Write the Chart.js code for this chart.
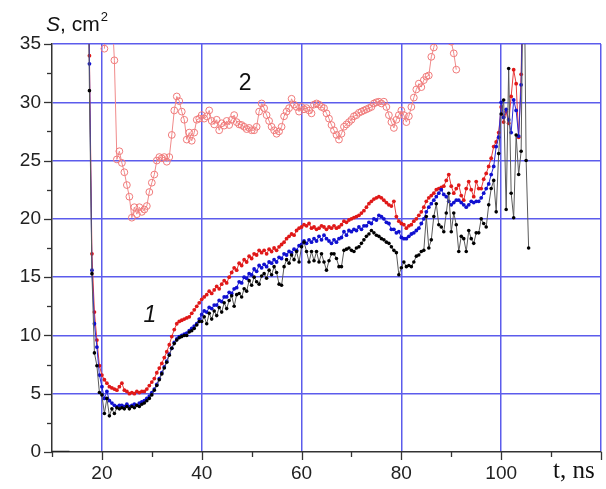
<!DOCTYPE html>
<html>
<head>
<meta charset="utf-8">
<script src="https://cdn.jsdelivr.net/npm/chart.js@4/dist/chart.umd.min.js"></script>
<style>
html,body{margin:0;padding:0;background:#fff;}
#wrap{width:606px;height:489px;position:relative;}
</style>
</head>
<body>
<div id="wrap"><canvas id="c" width="606" height="489"></canvas></div>
<script>
// ---- time axis of curves "1" (ns) ----
const t1 = [
17.0,17.5,18.0,18.5,19.0,19.5,20.0,20.5,21.0,21.5,22.0,22.5,23.0,23.5,24.0,24.5,25.0,25.5,26.0,26.5,
27.0,27.5,28.0,28.5,29.0,29.5,30.0,30.5,31.0,31.5,32.0,32.5,33.0,33.5,34.0,34.5,35.0,35.5,36.0,36.5,
37.0,37.5,38.0,38.5,39.0,39.5,40.0,40.5,41.0,41.5,42.0,42.5,43.0,43.5,44.0,44.5,45.0,45.5,46.0,46.5,
47.0,47.5,48.0,48.5,49.0,49.5,50.0,50.5,51.0,51.5,52.0,52.5,53.0,53.5,54.0,54.5,55.0,55.5,56.0,56.5,
57.0,57.5,58.0,58.5,59.0,59.5,60.0,60.5,61.0,61.5,62.0,62.5,63.0,63.5,64.0,64.5,65.0,65.5,66.0,66.5,
67.0,67.5,68.0,68.5,69.0,69.5,70.0,70.5,71.0,71.5,72.0,72.5,73.0,73.5,74.0,74.5,75.0,75.5,76.0,76.5,
77.0,77.5,78.0,78.5,79.0,79.5,80.0,80.5,81.0,81.5,82.0,82.5,83.0,83.5,84.0,84.5,85.0,85.5,86.0,86.5,
87.0,87.5,88.0,88.5,89.0,89.5,90.0,90.5,91.0,91.5,92.0,92.5,93.0,93.5,94.0,94.5,95.0,95.5,96.0,96.5,
97.0,97.5,98.0,98.5,99.0,99.5,100.0,100.5,101.0,101.5,102.0,102.5,103.0,103.5,104.0,104.5,105.0,105.5
];
// ---- curve 1, red (upper) ----
const sRed = [
50,34.0,17.0,12.0,9.6,7.4,6.6,6.2,5.9,5.6,5.5,5.4,5.3,5.6,5.9,5.3,5.2,5.0,5.1,5.0,
5.2,5.1,5.2,5.2,5.4,5.7,6.0,6.3,6.8,7.2,7.6,8.1,8.6,9.2,9.9,10.5,11.0,11.2,11.3,11.4,
11.5,11.6,11.9,12.2,12.5,12.8,
13.1,13.3,13.5,13.8,13.6,13.9,14.2,14.0,14.4,14.7,
14.5,15.0,15.4,15.8,15.6,16.2,16.0,16.5,16.3,16.8,
16.6,17.0,16.9,17.3,17.1,17.3,17.0,17.4,17.2,17.5,
17.3,17.6,17.8,18.0,18.3,18.5,18.7,18.6,19.0,19.2,
19.3,19.5,19.4,19.6,19.2,19.3,19.1,19.2,19.4,19.3,
19.1,19.3,19.2,19.4,19.2,19.3,19.5,19.8,19.7,19.9,
20.0,20.1,20.2,20.3,20.5,20.7,21.0,21.3,21.5,21.7,
21.8,21.9,21.8,21.6,21.4,21.2,21.1,21.5,20.2,19.8,
19.6,19.5,
19.2,19.4,19.5,19.8,20.0,20.3,20.6,21.0,
21.5,21.8,22.0,22.2,22.5,22.6,22.7,22.8,23.3,23.8,
22.8,22.2,22.6,22.9,22.0,21.6,22.6,23.2,22.5,21.9,
23.2,22.6,22.6,23.4,23.9,24.5,25.2,26.2,26.6,27.4,
29.6,28.3,29.2,28.2,30.5,32.8,31.6,27.0,32.4,45,
44,null
];
// ---- curve 1, blue (middle) ----
const sBlue = [
50,33.3,15.6,11.0,9.0,6.6,5.6,4.6,5.2,4.4,4.2,4.0,3.9,4.0,4.0,3.9,4.1,3.9,4.0,4.1,
4.0,4.2,4.3,4.4,4.6,4.8,5.1,5.4,5.8,6.3,6.8,7.3,7.8,8.4,8.9,9.4,9.7,9.9,10.0,10.1,
10.2,10.4,10.6,10.8,11.0,11.4,
11.8,12.1,12.0,12.4,12.3,12.6,12.6,13.0,12.9,13.3,
13.3,13.7,13.6,14.0,14.1,14.6,14.5,15.0,14.9,15.3,
15.2,15.7,15.5,16.0,15.8,16.1,15.9,16.3,16.2,16.5,
16.3,16.7,16.6,17.0,16.9,17.2,17.1,17.4,17.3,17.7,
17.8,18.1,17.9,18.2,18.0,18.3,18.1,18.5,18.2,18.6,
18.3,18.1,17.9,18.2,18.0,18.3,18.4,18.9,18.6,19.0,
18.9,19.1,19.0,19.3,19.1,19.4,19.4,19.7,19.6,20.0,
19.9,20.3,20.2,20.0,19.7,19.6,19.1,19.1,18.8,18.9,
18.4,18.3,
18.3,18.5,18.7,18.8,19.0,19.2,19.6,20.0,
20.6,21.0,21.3,21.6,21.9,22.2,22.5,22.1,21.9,21.5,
21.2,21.4,21.6,21.6,21.4,21.2,21.0,21.2,21.5,21.4,
21.5,21.5,21.8,22.2,22.6,23.0,23.8,24.5,26.2,27.0,
30.0,28.7,29.4,28.5,27.4,30.2,29.3,27.1,31.5,44,
45,null
];
// ---- curve 1, black (lower) ----
const sBlack = [
50,31.0,15.3,8.5,7.4,5.1,4.9,3.3,4.6,3.1,3.7,3.3,3.8,3.7,3.8,3.7,3.9,3.7,3.9,3.8,
4.0,3.9,4.1,4.2,4.4,4.6,4.9,5.3,5.7,6.2,6.7,7.2,7.7,8.3,8.9,9.3,9.6,9.8,9.9,10.0,
10.0,10.3,10.4,10.6,10.9,11.2,
11.2,11.6,11.0,11.9,11.4,12.1,11.7,12.4,12.0,12.8,
12.3,13.0,13.4,12.5,13.5,13.6,13.3,14.0,13.8,14.7,
14.3,15.0,14.6,14.4,15.1,15.3,14.9,15.6,15.2,15.9,
15.4,14.4,14.3,15.9,16.5,16.2,16.9,16.5,17.2,16.3,
17.6,18.0,17.2,16.3,17.2,16.4,17.2,16.3,17.0,16.3,
15.6,16.4,17.0,17.0,16.6,15.9,15.9,17.3,17.4,17.5,
17.3,17.2,17.5,17.6,17.9,18.2,18.5,18.7,19.0,18.8,
18.6,18.5,18.3,18.2,18.0,17.9,17.6,17.3,17.1,15.2,
15.8,16.3,
15.9,16.0,15.9,16.3,16.8,16.9,17.2,17.3,
20.2,17.5,18.2,20.2,21.3,19.5,19.3,18.9,20.5,22.2,
18.9,20.5,19.5,17.2,18.5,18.3,17.2,19.0,18.3,17.9,
18.8,18.8,20.0,19.6,19.3,21.2,22.6,23.3,20.6,25.6,
29.0,30.2,20.8,32.9,22.2,20.1,27.2,23.8,25.8,46,
25.0,17.5
];
// ---- black baseline segment before the pulse ----
const tBase = [10, 13.5];
const sBase = [0, 0];
// ---- curve 2 (open circles) ----
const t2 = [
20.5,21.0,21.5,22.0,22.5,23.0,23.5,24.0,24.5,25.0,
25.5,26.0,26.5,27.0,27.5,28.0,28.5,29.0,29.5,30.0,
30.5,31.0,31.5,32.0,32.5,33.0,33.5,34.0,34.5,35.0,
35.5,36.0,36.5,37.0,37.5,38.0,38.5,39.0,39.5,40.0,
40.5,41.0,41.5,42.0,42.5,43.0,43.5,44.0,44.5,45.0,
45.5,46.0,46.5,47.0,47.5,48.0,48.5,49.0,49.5,50.0,
50.5,51.0,51.5,52.0,52.5,53.0,53.5,54.0,54.5,55.0,
55.5,56.0,56.5,57.0,57.5,58.0,58.5,59.0,59.5,60.0,
60.5,61.0,61.5,62.0,62.5,63.0,63.5,64.0,64.5,65.0,
65.5,66.0,66.5,67.0,67.5,68.0,68.5,69.0,69.5,70.0,
70.5,71.0,71.5,72.0,72.5,73.0,73.5,74.0,74.5,75.0,
75.5,76.0,76.5,77.0,77.5,78.0,78.5,79.0,79.5,80.0,
80.5,81.0,81.5,82.0,82.5,83.0,83.5,84.0,84.5,85.0,
85.5,86.0,86.5,87.0,87.5,88.0,88.5,89.0,89.5,90.0,
90.5,91.0
];
const s2 = [
34.6,38,40,38,33.6,25.1,25.8,24.8,24.0,22.9,
21.9,20.1,21.0,20.4,21.0,20.6,20.8,21.1,22.3,23.1,
23.8,25.0,25.3,25.2,25.3,24.9,25.3,27.2,29.3,30.5,
30.1,29.2,28.5,26.8,27.4,26.7,27.4,28.5,28.6,28.9,
28.6,28.8,29.3,28.4,28.1,28.5,27.6,28.2,28.0,28.4,
28.05,28.5,28.9,28.3,28.1,28.05,27.9,27.7,27.8,27.6,
27.6,27.9,29.2,29.9,29.5,28.9,28.4,27.9,27.6,27.3,
27.5,27.9,28.8,29.2,29.5,30.3,29.8,29.6,29.2,29.6,
29.4,29.5,29.3,29.05,29.8,29.9,29.8,29.6,29.5,29.05,
28.6,28.05,27.6,27.2,26.8,27.3,27.9,28.1,28.3,28.5,
28.8,28.9,29.1,29.2,29.3,29.4,29.5,29.6,29.9,30.0,
30.05,29.9,30.05,29.6,28.9,28.3,27.8,28.5,28.9,29.3,
28.9,28.3,28.8,29.6,30.4,31.1,31.6,31.3,31.9,32.2,
32.3,33.9,34.7,35.8,36.5,36.8,36.6,36.2,35.8,35.2,
34.2,32.8
];
// ---- axis ticks ----
const xLabeled = [20, 40, 60, 80, 100];
const yLabeled = [0, 5, 10, 15, 20, 25, 30, 35];
// ---- curve labels (data coords) ----
const curveLabels = [
  {text: '1', x: 29.6, y: 11.7, italic: true},
  {text: '2', x: 48.7, y: 31.6, italic: false}
];

function pts(xs, ys){ return xs.map((x,i)=>({x:x, y:ys[i]})); }

const GRID = '#5c5cec';

const deco = {
  id: 'deco',
  afterDraw(chart){
    const ctx = chart.ctx, xs = chart.scales.x, ys = chart.scales.y, ca = chart.chartArea;
    ctx.save();
    // tick marks
    ctx.strokeStyle = '#333'; ctx.lineWidth = 1.3;
    xs.ticks.forEach(t=>{
      const px = Math.round(xs.getPixelForValue(t.value))+0.5;
      const len = (t.value % 20 === 0) ? 8 : 5;
      ctx.beginPath(); ctx.moveTo(px, ca.bottom); ctx.lineTo(px, ca.bottom+len); ctx.stroke();
    });
    ys.ticks.forEach(t=>{
      const py = Math.round(ys.getPixelForValue(t.value))+0.5;
      const len = (t.value % 5 === 0) ? 8 : 5;
      ctx.beginPath(); ctx.moveTo(ca.left, py); ctx.lineTo(ca.left-len, py); ctx.stroke();
    });
    // axis title y
    ctx.fillStyle = '#111';
    ctx.textBaseline = 'alphabetic';
    ctx.textAlign = 'left';
    ctx.font = 'italic 21px "Liberation Sans", Arial, sans-serif';
    ctx.fillText('S', 46, 31);
    let w = ctx.measureText('S').width;
    ctx.font = '21px "Liberation Sans", Arial, sans-serif';
    ctx.fillText(', cm', 46 + w, 31);
    w += ctx.measureText(', cm').width;
    ctx.font = '13px "Liberation Sans", Arial, sans-serif';
    ctx.fillText('2', 46 + w + 1, 21);
    // axis title x
    ctx.font = '25px "Liberation Serif", "Times New Roman", serif';
    ctx.fillText('t, ns', 553, 478);
    // curve labels
    curveLabels.forEach(l=>{
      ctx.font = (l.italic ? 'italic ' : '') + '23px "Liberation Sans", Arial, sans-serif';
      ctx.textAlign = 'center'; ctx.textBaseline = 'middle';
      ctx.fillText(l.text, xs.getPixelForValue(l.x), ys.getPixelForValue(l.y));
    });
    ctx.restore();
  }
};

new Chart(document.getElementById('c'), {
  type: 'line',
  data: {
    datasets: [
      {data: pts(tBase, sBase), borderColor:'#222', borderWidth:2.5, pointRadius:0, order:0},
      {data: pts(t1, sBlack), borderColor:'#5a5a5a', borderWidth:1, pointRadius:1.8, pointBackgroundColor:'#000', pointBorderColor:'#000', pointBorderWidth:0, order:1},
      {data: pts(t1, sBlue), borderColor:'#2a2ad8', borderWidth:1, pointRadius:1.9, pointBackgroundColor:'#1010d0', pointBorderColor:'#1010d0', pointBorderWidth:0, order:2},
      {data: pts(t1, sRed), borderColor:'#e83a3a', borderWidth:1, pointRadius:1.9, pointBackgroundColor:'#e01818', pointBorderColor:'#e01818', pointBorderWidth:0, order:3},
      {data: pts(t2, s2), borderColor:'#f08a8a', borderWidth:1, pointRadius:3.4, pointBackgroundColor:'rgba(255,255,255,0)', pointBorderColor:'#f07a7a', pointBorderWidth:1, order:4}
    ]
  },
  options: {
    responsive: false,
    animation: false,
    spanGaps: false,
    layout: {padding: {top: 44, right: 3, left: 0, bottom: 0}},
    plugins: {legend: {display:false}, tooltip: {enabled:false}, title:{display:false}},
    elements: {line: {tension: 0}},
    scales: {
      x: {
        type: 'linear', min: 10, max: 120,
        afterFit(s){ s.height = 37; },
        ticks: {
          stepSize: 10, autoSkip: false, maxRotation: 0, padding: 2,
          color: '#222',
          font: {family: '"Liberation Sans", Arial, sans-serif', size: 19},
          callback: v => xLabeled.includes(v) ? String(v) : ''
        },
        grid: {
          color: c => (c.tick && c.tick.value % 20 === 0 && c.tick.value > 10) ? GRID : 'rgba(0,0,0,0)',
          lineWidth: 1.5, drawTicks: true, tickLength: 8, tickColor: 'rgba(0,0,0,0)'
        },
        border: {display: true, color: '#333', width: 1.5}
      },
      y: {
        type: 'linear', min: 0, max: 35,
        afterFit(s){ s.width = 52; },
        ticks: {
          stepSize: 2.5, autoSkip: false, padding: 3,
          color: '#222',
          font: {family: '"Liberation Sans", Arial, sans-serif', size: 19},
          callback: v => yLabeled.includes(v) ? String(v) : ''
        },
        grid: {
          color: c => (c.tick && c.tick.value % 5 === 0 && c.tick.value > 0) ? GRID : 'rgba(0,0,0,0)',
          lineWidth: 1.5, drawTicks: true, tickLength: 8, tickColor: 'rgba(0,0,0,0)'
        },
        border: {display: true, color: '#333', width: 1.5}
      }
    }
  },
  plugins: [deco]
});
</script>
</body>
</html>
